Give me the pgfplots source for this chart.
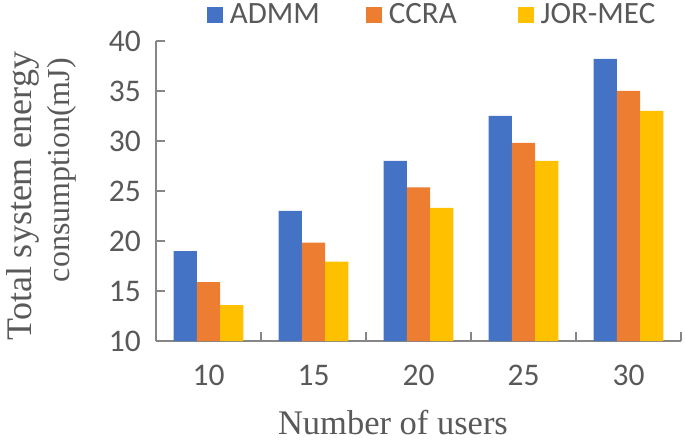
\documentclass[border=0pt]{standalone}
\usepackage{fontspec}
\setmainfont{Liberation Serif}
\newfontfamily\carlito{Carlito}
\usepackage{pgfplots}
\pgfplotsset{compat=1.18}
\definecolor{admm}{HTML}{4472C4}
\definecolor{ccra}{HTML}{ED7D31}
\definecolor{jor}{HTML}{FFC000}
\definecolor{txtgray}{HTML}{595959}
\definecolor{axgray}{HTML}{868686}
\pgfplotsset{sqlegend/.style={legend image code/.code={\fill[##1] (0pt,-8pt) rectangle (16pt,8pt);}}}
\begin{document}
\begin{tikzpicture}
\useasboundingbox (-156pt,-103pt) rectangle (529pt,341pt);
\begin{axis}[
  at={(0pt,0pt)}, anchor=south west,
  scale only axis, width=525pt, height=300pt,
  ybar=0pt, bar width=23.3pt,
  xmin=-0.5, xmax=4.5, ymin=10, ymax=40,
  xtick={-0.5,0.5,1.5,2.5,3.5,4.5}, xticklabels={,,,,,},
  extra x ticks={0,1,2,3,4}, extra x tick labels={10,15,20,25,30},
  extra x tick style={major tick length=0pt},
  ytick={10,15,20,25,30,35,40},
  axis lines=left,
  axis line style={-, draw=axgray, line width=2pt},
  tick align=inside,
  major tick length=9pt,
  tick style={draw=axgray, line width=2pt},
  /pgf/number format/assume math mode=true,
  tick label style={font=\carlito\fontsize{31.5}{38}\selectfont, text=txtgray},
  yticklabel style={anchor=east, inner sep=0pt, xshift=-15pt},
  xticklabel style={anchor=base, inner sep=0pt, yshift=-44pt},
  xlabel={Number of users},
  xlabel style={at={(axis description cs:0.4514,-0.31)}, anchor=base, inner sep=0pt, font=\fontsize{34.5}{40}\selectfont, text=txtgray},
  ylabel={{\fontsize{36}{38}\selectfont Total system energy}\\\hspace*{52pt}{\fontsize{32}{38}\selectfont consumption(mJ)}},
  ylabel style={at={(axis description cs:-0.2178,0.483)}, anchor=center, align=center, inner sep=0pt, font=\fontsize{36}{38}\selectfont, text=txtgray},
  every axis plot post/.append style={sqlegend},
  legend columns=3,
  legend style={draw=none, fill=none, at={(axis description cs:0,1.0877)}, anchor=west, xshift=50.7pt, inner sep=0pt,
    font=\carlito\fontsize{31}{36}\selectfont, text=txtgray,
    nodes={inner sep=0pt},
    /tikz/column 1/.style={column sep=7pt},
    /tikz/column 2/.style={column sep=46pt},
    /tikz/column 3/.style={column sep=7pt},
    /tikz/column 4/.style={column sep=61pt},
    /tikz/column 5/.style={column sep=7pt}},
]
\addplot[fill=admm, draw=none] coordinates {(0,19.0) (1,23.0) (2,28.0) (3,32.5) (4,38.2)};
\addplot[fill=ccra, draw=none] coordinates {(0,15.9) (1,19.85) (2,25.35) (3,29.8) (4,35.0)};
\addplot[fill=jor, draw=none] coordinates {(0,13.6) (1,17.95) (2,23.3) (3,28.0) (4,33.0)};
\legend{ADMM,CCRA,JOR-MEC}
\end{axis}
\end{tikzpicture}
\end{document}
